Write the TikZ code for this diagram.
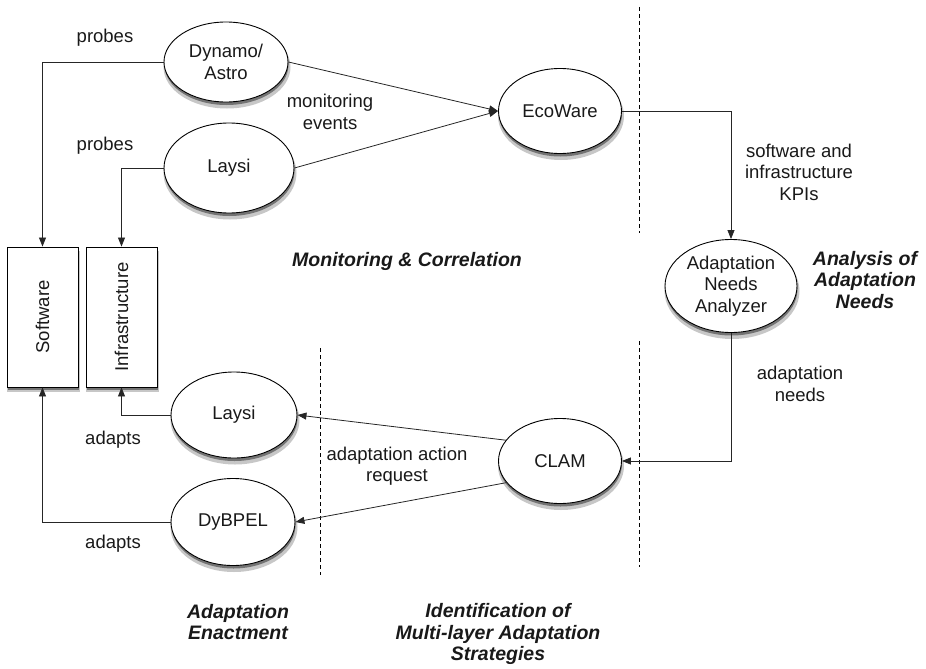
\documentclass[tikz,border=0pt]{standalone}
\usepackage{fontspec}
\setmainfont{Liberation Sans}
\usetikzlibrary{shapes.geometric,arrows.meta}
\begin{document}
\begin{tikzpicture}[x=1pt,y=1pt,
  every node/.style={font=\fontsize{18.5}{21.5}\selectfont, text=black!90},
  shA/.style={fill=black!22,draw=none,inner sep=0pt},
  shB/.style={fill=black!55,draw=none,inner sep=0pt},
  proc/.style={ellipse,draw=black,line width=0.9pt,fill=white,inner sep=0pt,align=center},
  layer/.style={rectangle,draw=black,line width=0.9pt,fill=white,minimum width=71pt,minimum height=140pt,inner sep=0pt},
  lbl/.style={align=center,inner sep=0pt},
  phase/.style={align=center,inner sep=0pt,font=\fontsize{19.5}{21.5}\selectfont\bfseries\itshape},
  arr/.style={draw=black!85,line width=0.8pt,-{Triangle[length=9pt,width=7pt]}},
  sep/.style={draw=black,line width=0.8pt,dash pattern=on 4pt off 3pt}]
\useasboundingbox (0,0) rectangle (926,-669);
% shadows
\node[shA,rectangle,minimum width=73pt,minimum height=141pt] (swsA) at (43.5,-321.5) {};
\node[shB,rectangle,minimum width=71pt,minimum height=140pt] (swsB) at (43,-320) {};
\node[shA,rectangle,minimum width=73pt,minimum height=141pt] (infsA) at (122.5,-321.5) {};
\node[shB,rectangle,minimum width=71pt,minimum height=140pt] (infsB) at (122,-320) {};
\node[shA,ellipse,minimum width=127pt,minimum height=83pt] (dynsA) at (227,-67) {};
\node[shB,ellipse,minimum width=124pt,minimum height=80pt] (dynsB) at (226.5,-65) {};
\node[shA,ellipse,minimum width=133pt,minimum height=93pt] (lay1sA) at (230,-173) {};
\node[shB,ellipse,minimum width=130pt,minimum height=90pt] (lay1sB) at (229.5,-171) {};
\node[shA,ellipse,minimum width=126pt,minimum height=88pt] (ecosA) at (561,-116) {};
\node[shB,ellipse,minimum width=123pt,minimum height=85pt] (ecosB) at (560.5,-114) {};
\node[shA,ellipse,minimum width=135pt,minimum height=96pt] (anasA) at (732,-291) {};
\node[shB,ellipse,minimum width=132pt,minimum height=93pt] (anasB) at (731.5,-289) {};
\node[shA,ellipse,minimum width=126pt,minimum height=88pt] (clamsA) at (561,-466) {};
\node[shB,ellipse,minimum width=123pt,minimum height=85pt] (clamsB) at (560.5,-464) {};
\node[shA,ellipse,minimum width=129pt,minimum height=89pt] (lay2sA) at (235,-420) {};
\node[shB,ellipse,minimum width=126pt,minimum height=86pt] (lay2sB) at (234.5,-418) {};
\node[shA,ellipse,minimum width=127pt,minimum height=90pt] (dybsA) at (234,-527) {};
\node[shB,ellipse,minimum width=124pt,minimum height=87pt] (dybsB) at (233.5,-525) {};
% layers
\node[layer] (sw) at (42.5,-317) {};
\node[rotate=90,lbl] (swt) at (sw.center) {Software};
\node[layer] (inf) at (121.5,-317) {};
\node[rotate=90,lbl] (inft) at (inf.center) {Infrastructure};
% processes
\node[proc,minimum width=124pt,minimum height=80pt] (dyn) at (226,-62) {Dynamo/\\Astro};
\node[proc,minimum width=130pt,minimum height=90pt] (lay1) at (229,-168) {Laysi};
\node[proc,minimum width=123pt,minimum height=85pt] (eco) at (560,-111) {EcoWare};
\node[proc,minimum width=132pt,minimum height=93pt] (ana) at (731,-286) {Adaptation\\Needs\\Analyzer};
\node[proc,minimum width=123pt,minimum height=85pt] (clam) at (560,-461) {CLAM};
\node[proc,minimum width=126pt,minimum height=86pt] (lay2) at (234,-415) {Laysi};
\node[proc,minimum width=124pt,minimum height=87pt] (dyb) at (233,-522) {DyBPEL};
% separators
\coordinate (s1a) at (639,-7);   \coordinate (s1b) at (639,-233);
\coordinate (s2a) at (639,-341); \coordinate (s2b) at (639,-567);
\coordinate (s3a) at (320,-348); \coordinate (s3b) at (320,-575);
\draw[sep] (s1a) -- (s1b);
\draw[sep] (s2a) -- (s2b);
\draw[sep] (s3a) -- (s3b);
% connectors
\draw[arr] (dyn.west) -| (sw.north);
\draw[arr] (lay1.west) -| (inf.north);
\draw[arr] (dyn.east) -- (eco.west);
\draw[arr] (lay1.east) -- (eco.west);
\draw[arr] (eco.east) -| (ana.north);
\draw[arr] (ana.south) |- (clam.east);
\draw[arr] (clam.159) -- (lay2.east);
\draw[arr] (clam.202) -- (dyb.east);
\draw[arr] (lay2.west) -| (inf.south);
\draw[arr] (dyb.west) -| (sw.south);
% labels
\node[lbl] (p1) at (105,-38) {probes};
\node[lbl] (p2) at (105,-146) {probes};
\node[lbl] (me) at (330,-112) {monitoring\\events};
\node[lbl] (kpi) at (799,-172) {software and\\infrastructure\\KPIs};
\node[lbl] (an) at (800,-384) {adaptation\\needs};
\node[lbl] (aar) at (397,-466) {adaptation action\\request};
\node[lbl] (ad1) at (113,-440) {adapts};
\node[lbl] (ad2) at (113,-544) {adapts};
\node[phase] (ph1) at (407,-261) {Monitoring \& Correlation};
\node[phase] (ph2) at (865,-280) {Analysis of\\Adaptation\\Needs};
\node[phase] (ph3) at (238,-622) {Adaptation\\Enactment};
\node[phase] (ph4) at (498,-634) {Identification of\\Multi-layer Adaptation\\Strategies};
\end{tikzpicture}
\end{document}
